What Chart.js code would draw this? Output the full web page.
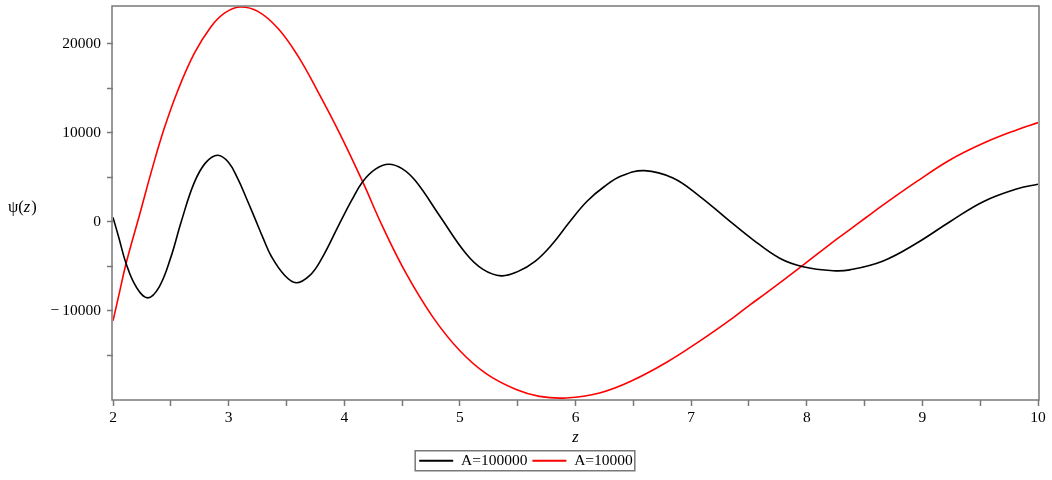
<!DOCTYPE html>
<html>
<head>
<meta charset="utf-8">
<script src="https://cdn.jsdelivr.net/npm/chart.js@4.4.1/dist/chart.umd.min.js"></script>
<style>
html,body{margin:0;padding:0;background:#ffffff;}
#wrap{width:1052px;height:480px;position:relative;}
</style>
</head>
<body>
<div id="wrap"><canvas id="c" width="1052" height="480"></canvas></div>
<script>
// ---- data ----
const zBlack = [2.0, 2.05, 2.113, 2.2, 2.3, 2.4, 2.5, 2.59, 2.7, 2.8, 2.906, 3.0, 3.08, 3.15, 3.22, 3.3, 3.37, 3.48, 3.584, 3.7, 3.8, 3.957, 4.06, 4.159, 4.27, 4.384, 4.5, 4.621, 4.823, 5.054, 5.2, 5.357, 5.5, 5.65, 5.8, 5.95, 6.1, 6.25, 6.4, 6.597, 6.843, 7.074, 7.305, 7.536, 7.766, 7.968, 8.228, 8.372, 8.661, 8.949, 9.238, 9.526, 9.815, 10.0];
const psiBlack = [490, -1760, -4680, -7300, -8540, -7300, -4000, 0, 4300, 6600, 7460, 6650, 4800, 2750, 600, -1900, -3900, -5950, -6850, -6050, -4250, -260, 2300, 4490, 5900, 6450, 5950, 4500, 700, -3600, -5350, -6070, -5600, -4450, -2500, 0, 2300, 3950, 5150, 5730, 4900, 2850, 380, -2030, -4100, -5050, -5500, -5400, -4400, -2420, 0, 2250, 3670, 4200];

const zRed = [2.0, 2.06, 2.113, 2.228, 2.344, 2.444, 2.56, 2.704, 2.849, 2.964, 3.094, 3.253, 3.426, 3.599, 3.772, 3.957, 4.159, 4.332, 4.535, 4.765, 4.996, 5.227, 5.487, 5.688, 5.919, 6.208, 6.496, 6.785, 7.074, 7.362, 7.506, 7.651, 7.968, 8.228, 8.372, 8.516, 8.661, 8.949, 9.238, 9.526, 9.815, 10.0];
const psiRed = [-11120, -7700, -4680, 700, 6180, 10500, 14700, 18900, 21900, 23400, 24090, 23600, 21700, 18600, 14600, 10000, 4490, -560, -5800, -10670, -14420, -17040, -18830, -19590, -19770, -19210, -17790, -15800, -13400, -10790, -9360, -7980, -4870, -2250, -880, 500, 1880, 4490, 6930, 8800, 10300, 11120];

const seriesLabels = ['A=100000', 'A=10000'];
const seriesColors = ['#000000', '#ff0000'];

const xTickValues = [2, 2.5, 3, 3.5, 4, 4.5, 5, 5.5, 6, 6.5, 7, 7.5, 8, 8.5, 9, 9.5, 10];
const xMajorTicks = [2, 3, 4, 5, 6, 7, 8, 9, 10];
const yTickValues = [-15000, -10000, -5000, 0, 5000, 10000, 15000, 20000];
const yMajorTicks = [-10000, 0, 10000, 20000];
const xTitle = 'z';
const yTitleParts = ['\u03c8(', 'z', ')'];

// ---- chart ----
const SERIF = '"Liberation Serif", "Times New Roman", serif';
const AXIS_GREY = '#787878';

function toPoints(xs, ys) { return xs.map((x, i) => ({ x: x, y: ys[i] })); }

function fmtY(v) {
  if (v < 0) return '\u2212' + '\u2009' + String(Math.abs(v));
  return String(v);
}

const decorPlugin = {
  id: 'decor',
  afterDraw(chart) {
    const ctx = chart.ctx;
    const a = chart.chartArea;
    ctx.save();
    ctx.strokeStyle = AXIS_GREY;
    ctx.lineWidth = 1.5;
    ctx.strokeRect(a.left - 1, a.top, a.right - a.left + 2, a.bottom - a.top);
    const lg = chart.legend;
    if (lg && lg.legendHitBoxes && lg.legendHitBoxes.length) {
      const hb = lg.legendHitBoxes;
      const l = hb[0].left - 4;
      const r = hb[hb.length - 1].left + hb[hb.length - 1].width + 2;
      const cy = hb[0].top + hb[0].height / 2;
      ctx.strokeRect(l, cy - 10, r - l, 20);
    }
    ctx.fillStyle = '#000000';
    ctx.textBaseline = 'middle';
    ctx.textAlign = 'left';
    let x = 8;
    const y = 208;
    yTitleParts.forEach((t, i) => {
      ctx.font = (i === 1 ? 'italic ' : '') + '16.5px ' + SERIF;
      ctx.fillText(t, x, y);
      x += ctx.measureText(t).width + (i === 1 ? 1 : 0);
    });
    ctx.restore();
  }
};

new Chart(document.getElementById('c'), {
  type: 'line',
  data: {
    datasets: [
      {
        label: seriesLabels[0],
        data: toPoints(zBlack, psiBlack),
        borderColor: seriesColors[0],
        backgroundColor: seriesColors[0],
        borderWidth: 1.6,
        pointRadius: 0,
        tension: 0.4,
        fill: false
      },
      {
        label: seriesLabels[1],
        data: toPoints(zRed, psiRed),
        borderColor: seriesColors[1],
        backgroundColor: seriesColors[1],
        borderWidth: 1.6,
        pointRadius: 0,
        tension: 0.4,
        fill: false
      }
    ]
  },
  options: {
    responsive: false,
    animation: false,
    devicePixelRatio: 1,
    layout: { padding: { left: 0, right: 0, top: 6, bottom: 1.5 } },
    plugins: {
      tooltip: { enabled: false },
      legend: {
        display: true,
        position: 'bottom',
        labels: {
          boxWidth: 34,
          boxHeight: 2,
          padding: 5,
          color: '#000000',
          font: { family: SERIF, size: 15.5 },
          generateLabels(chart) {
            return Chart.defaults.plugins.legend.labels.generateLabels(chart).map(l => Object.assign({}, l, { fillStyle: l.strokeStyle, lineWidth: 0 }));
          }
        }
      }
    },
    scales: {
      x: {
        type: 'linear',
        min: 2,
        max: 10,
        afterBuildTicks(scale) { scale.ticks = xTickValues.map(v => ({ value: v })); },
        afterFit(scale) { scale.height = 48; scale.paddingLeft = 0; scale.paddingRight = 14; },
        border: { display: false },
        grid: { drawOnChartArea: false, drawTicks: true, tickLength: 6, tickColor: AXIS_GREY, tickWidth: 1.5 },
        ticks: {
          autoSkip: false,
          maxRotation: 0,
          padding: 3,
          color: '#000000',
          font: { family: SERIF, size: 15.5 },
          callback: (v) => xMajorTicks.includes(v) ? String(v) : ''
        },
        title: {
          display: true,
          text: xTitle,
          color: '#000000',
          padding: { top: 0, bottom: 0 },
          font: { family: SERIF, size: 16.5, style: 'italic' }
        }
      },
      y: {
        type: 'linear',
        min: -20000,
        max: 24200,
        afterBuildTicks(scale) { scale.ticks = yTickValues.map(v => ({ value: v })); },
        afterFit(scale) { scale.width = 113; scale.paddingTop = 0; scale.paddingBottom = 0; },
        border: { display: false },
        grid: { drawOnChartArea: false, drawTicks: true, tickLength: 6, tickColor: AXIS_GREY, tickWidth: 1.5 },
        ticks: {
          autoSkip: false,
          padding: 6,
          color: '#000000',
          font: { family: SERIF, size: 15.5 },
          callback: (v) => yMajorTicks.includes(v) ? fmtY(v) : ''
        }
      }
    }
  },
  plugins: [decorPlugin]
});
</script>
</body>
</html>
